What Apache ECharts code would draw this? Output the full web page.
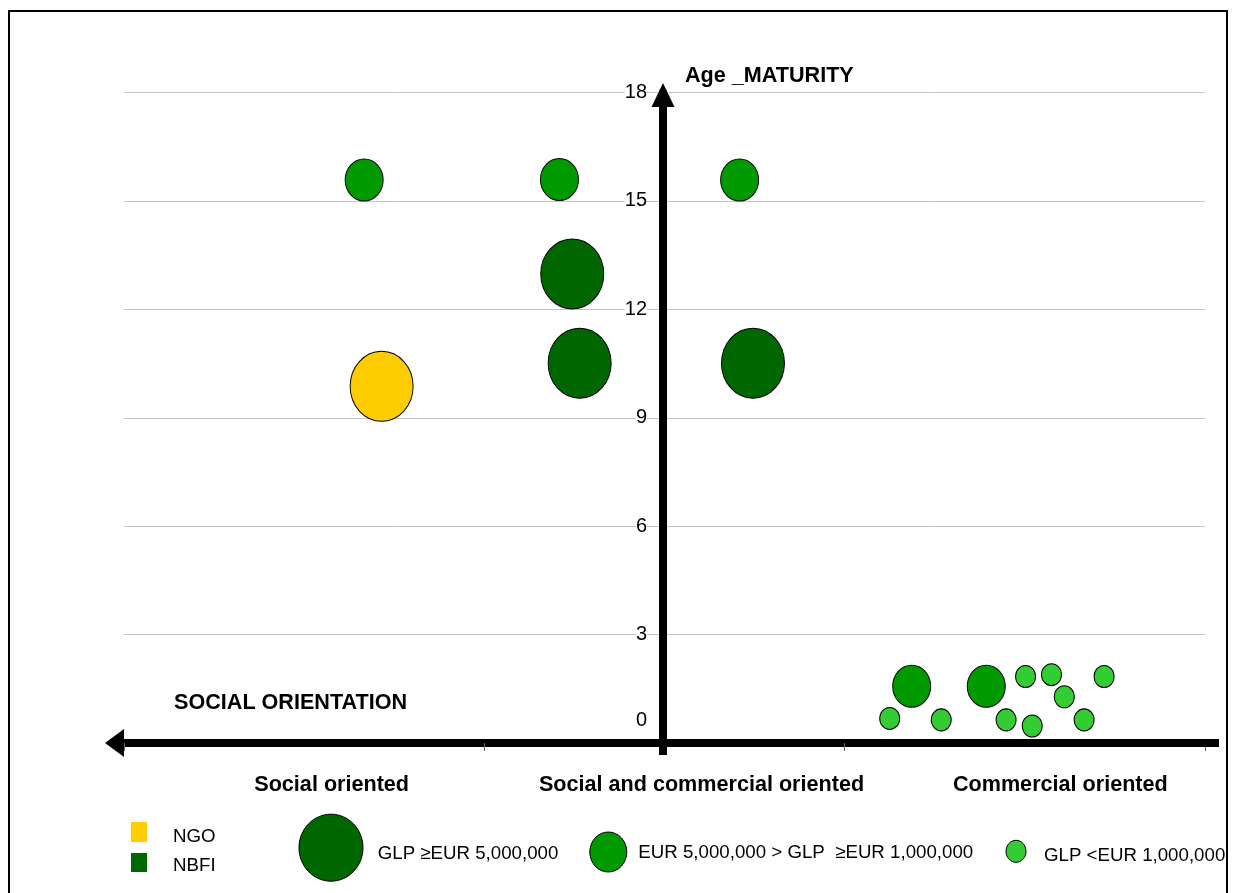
<!DOCTYPE html>
<html>
<head>
<meta charset="utf-8">
<script src="https://cdn.jsdelivr.net/npm/echarts@6/dist/echarts.min.js"></script>
<style>
html,body{margin:0;padding:0;background:#fff;}
#c{width:1235px;height:893px;}
</style>
</head>
<body>
<div id="c"></div>
<script>
// ---------- DATA ----------
const orientationLabels = ['Social oriented', 'Social and commercial oriented', 'Commercial oriented'];
const xAxisTitle = 'SOCIAL ORIENTATION';
const yAxisTitle = 'Age _MATURITY';
const typeLabels = ['NGO', 'NBFI'];
const sizeClassLabels = ['GLP \u2265EUR 5,000,000', 'EUR 5,000,000 > GLP  \u2265EUR 1,000,000', 'GLP <EUR 1,000,000'];
// [orientation score (-3 social ... +3 commercial), age (years), GLP size class index]
const ngoPoints = [
  [-1.57, 9.87, 0]
];
const nbfiPoints = [
  [-1.667, 15.58, 1], [-0.583, 15.59, 1], [0.417, 15.58, 1],
  [-0.512, 12.98, 0], [-0.471, 10.51, 0], [0.491, 10.51, 0],
  [1.372, 1.57, 1], [1.786, 1.57, 1],
  [1.250, 0.68, 2], [1.536, 0.64, 2], [2.004, 1.84, 2], [2.148, 1.89, 2],
  [2.219, 1.28, 2], [2.440, 1.84, 2], [1.896, 0.64, 2], [2.041, 0.47, 2], [2.329, 0.64, 2]
];

// ---------- STYLE ----------
const FONT = '"Liberation Sans", Arial, Helvetica, sans-serif';
const BOLD_SIZE = 21.6;
const ngoColor = '#FFCC00';
const sizeColors = ['#006600', '#009900', '#33CC33'];
const sizeSymbols = [[63, 70], [38, 42], [20, 22]];
const yAxisShift = 539; // vertical axis drawn near the middle of the plot

const chart = echarts.init(document.getElementById('c'), null, {renderer: 'canvas'});

const boldRich = pad => ({fontFamily: FONT, fontWeight: 'bold', fontSize: BOLD_SIZE, color: '#000', padding: [0, 0, 0, pad]});

const option = {
  backgroundColor: '#fff',
  animation: false,
  textStyle: {fontFamily: FONT},
  grid: {left: 124, right: 30, top: 92.5, bottom: 150, containLabel: false, outerBoundsMode: 'none'},
  xAxis: [
    {
      type: 'value', min: -3, max: 3, interval: 2,
      axisLine: {
        show: true, onZero: true,
        lineStyle: {color: '#000', width: 8},
        symbol: ['triangle', 'none'], symbolSize: [28, 19], symbolOffset: [-9.5, 0]
      },
      axisTick: {show: true, length: 8, lineStyle: {color: '#666', width: 1}},
      axisLabel: {show: false},
      splitLine: {show: false}
    },
    {
      type: 'category', position: 'bottom', data: orientationLabels, boundaryGap: true,
      axisLine: {show: false}, axisTick: {show: false}, splitLine: {show: false},
      axisLabel: {
        show: true, interval: 0, margin: 31, color: '#000', fontFamily: FONT, fontWeight: 'bold', fontSize: BOLD_SIZE,
        formatter: (v, i) => '{l' + i + '|' + v + '}',
        rich: {l0: boldRich(55), l1: boldRich(74), l2: boldRich(71)}
      }
    }
  ],
  yAxis: {
    type: 'value', min: 0, max: 18, interval: 3,
    position: 'left', offset: -yAxisShift,
    axisLine: {
      show: true, onZero: false,
      lineStyle: {color: '#000', width: 8},
      symbol: ['none', 'triangle'], symbolSize: [23, 24], symbolOffset: [0, -2.5]
    },
    axisTick: {show: false},
    splitLine: {show: true, lineStyle: {color: '#c4c4c4', width: 1}},
    axisLabel: {
      margin: 16, color: '#000', fontFamily: FONT, fontSize: 20,
      formatter: v => v === 0 ? '{z|0}' : '{b|' + v + '}',
      rich: {
        b: {fontFamily: FONT, fontSize: 20, color: '#000', backgroundColor: '#fff'},
        z: {fontFamily: FONT, fontSize: 20, color: '#000', padding: [0, 0, 46, 0]}
      }
    },
    name: yAxisTitle, nameLocation: 'end', nameGap: 16, nameMoveOverlap: false,
    nameTextStyle: {fontFamily: FONT, fontWeight: 'bold', fontSize: BOLD_SIZE, color: '#000',
      align: 'left', verticalAlign: 'middle', padding: [0, 0, 0, 22]}
  },
  series: [
    {
      name: typeLabels[0], type: 'scatter', xAxisIndex: 0, yAxisIndex: 0,
      data: ngoPoints,
      symbol: 'circle',
      symbolSize: v => sizeSymbols[v[2]],
      itemStyle: {color: ngoColor, borderColor: '#000', borderWidth: 1, opacity: 1},
      emphasis: {disabled: true}
    },
    {
      name: typeLabels[1], type: 'scatter', xAxisIndex: 0, yAxisIndex: 0,
      data: nbfiPoints.map(p => ({value: p, itemStyle: {color: sizeColors[p[2]]}})),
      symbol: 'circle',
      symbolSize: v => sizeSymbols[v[2]],
      itemStyle: {color: sizeColors[0], borderColor: '#000', borderWidth: 1, opacity: 1},
      emphasis: {disabled: true}
    }
  ]
};

chart.setOption(option);

// ---------- decorations: frame, axis extensions, titles, legends ----------
const pMin = chart.convertToPixel({seriesIndex: 0}, [-3, 0]);
const pRight = chart.convertToPixel({seriesIndex: 0}, [3, 0]);
const yLineX = pMin[0] + yAxisShift;

const legendFont = {fontFamily: FONT, fontSize: 18.7, fill: '#000', verticalAlign: 'middle', align: 'left'};
const g = [];
g.push({type: 'rect', z: 0, shape: {x: 9, y: 11, width: 1218, height: 900},
  style: {fill: 'none', stroke: '#000', lineWidth: 2}});
g.push({type: 'rect', z: 10, shape: {x: pRight[0] - 1, y: pRight[1] - 4, width: 15, height: 8}, style: {fill: '#000'}});
g.push({type: 'rect', z: 10, shape: {x: yLineX - 4, y: pMin[1], width: 8, height: 12}, style: {fill: '#000'}});
g.push({type: 'text', z: 10, x: pMin[0] + 50, y: pMin[1] - 40,
  style: {text: xAxisTitle, fontFamily: FONT, fontWeight: 'bold', fontSize: BOLD_SIZE, fill: '#000', verticalAlign: 'middle', align: 'left'}});
// type legend
const typeColors = [ngoColor, sizeColors[0]];
const typeRows = [{sq: 822, h: 20, ty: 837}, {sq: 853, h: 19, ty: 865.5}];
typeLabels.forEach((t, i) => {
  g.push({type: 'rect', z: 10, shape: {x: 131, y: typeRows[i].sq, width: 16, height: typeRows[i].h},
    style: {fill: typeColors[i]}});
  g.push({type: 'text', z: 10, x: 173, y: typeRows[i].ty, style: Object.assign({text: t}, legendFont)});
});
// size legend
const sizeLegendPos = [
  {cx: 331, cy: 847.7, tx: 377.7, ty: 854},
  {cx: 608.3, cy: 852, tx: 638.3, ty: 853.3},
  {cx: 1016, cy: 851.3, tx: 1044, ty: 856}
];
const sizeLegendDims = [[64, 67], [37, 40], [20, 22]];
sizeClassLabels.forEach((t, i) => {
  const p = sizeLegendPos[i];
  g.push({type: 'ellipse', z: 10, shape: {cx: p.cx, cy: p.cy, rx: sizeLegendDims[i][0] / 2, ry: sizeLegendDims[i][1] / 2},
    style: {fill: sizeColors[i], stroke: '#000', lineWidth: 1}});
  g.push({type: 'text', z: 10, x: p.tx, y: p.ty, style: Object.assign({text: t}, legendFont)});
});
chart.setOption({graphic: g});
</script>
</body>
</html>
